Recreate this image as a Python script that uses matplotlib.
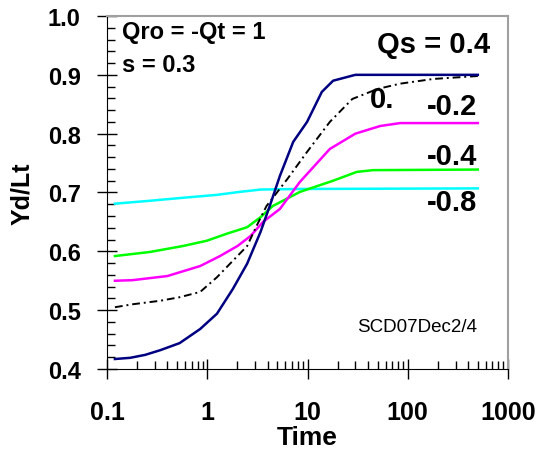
import numpy as np
import matplotlib
matplotlib.use('Agg')
import matplotlib.pyplot as plt
from matplotlib.ticker import FixedLocator, MultipleLocator, LogLocator, NullFormatter

plt.rcParams['font.family'] = ['Liberation Sans', 'DejaVu Sans']

# courbes Yd/Lt en fonction du temps, pour differentes valeurs de Qs
t_04 = [0.12, 0.17, 0.24, 0.34, 0.53, 0.85, 1.25, 1.8, 2.5, 3.4, 4.2, 5.3, 7.2, 9.9, 13.9, 18, 30, 500]
y_04 = [0.417, 0.419, 0.424, 0.432, 0.444, 0.468, 0.494, 0.536, 0.579, 0.633, 0.677, 0.728, 0.786, 0.820, 0.871, 0.890, 0.900, 0.900]

t_00 = [0.12, 0.18, 0.34, 0.53, 0.85, 1.25, 2.0, 2.5, 3.1, 3.9, 6.3, 9.9, 16.7, 28, 50, 84, 180, 500]
y_00 = [0.505, 0.510, 0.516, 0.522, 0.531, 0.556, 0.592, 0.609, 0.643, 0.677, 0.723, 0.769, 0.820, 0.859, 0.876, 0.885, 0.893, 0.898]

t_m02 = [0.12, 0.18, 0.40, 0.85, 1.34, 2.0, 2.7, 3.6, 5.3, 8.4, 16.7, 30, 53, 84, 500]
y_m02 = [0.550, 0.551, 0.558, 0.575, 0.592, 0.609, 0.626, 0.650, 0.672, 0.718, 0.774, 0.800, 0.813, 0.818, 0.818]

t_m04 = [0.12, 0.27, 0.57, 0.99, 1.57, 2.5, 3.4, 4.5, 8.4, 18, 31, 45, 500]
y_m04 = [0.592, 0.599, 0.609, 0.618, 0.630, 0.641, 0.658, 0.677, 0.701, 0.720, 0.735, 0.738, 0.739]

t_m08 = [0.12, 0.27, 0.57, 1.25, 2.1, 3.4, 8.4, 500]
y_m08 = [0.681, 0.686, 0.691, 0.696, 0.701, 0.705, 0.706, 0.707]

fig = plt.figure(figsize=(5.4, 4.56), dpi=100)
ax = fig.add_axes([107/540, 1-370/456, 401/540, 353/456])

ax.plot(t_m08, y_m08, color='#00ffff', lw=1.8)
ax.plot(t_m04, y_m04, color='#00ff00', lw=1.8)
ax.plot(t_m02, y_m02, color='#ff00ff', lw=1.8)
ax.plot(t_00, y_00, color='k', lw=1.4, dashes=(4, 2, 1, 2))
ax.plot(t_04, y_04, color='#000080', lw=1.8)

ax.set_xscale('log')
ax.set_xlim(0.1, 1000)
ax.set_ylim(0.4, 1.0)
ax.xaxis.set_major_locator(FixedLocator([0.1, 1, 10, 100, 1000]))
ax.xaxis.set_minor_locator(LogLocator(base=10, subs=np.arange(2, 10)))
ax.xaxis.set_minor_formatter(NullFormatter())
ax.set_xticklabels(['0.1', '1', '10', '100', '1000'])
ax.yaxis.set_major_locator(MultipleLocator(0.1))
ax.yaxis.set_minor_locator(MultipleLocator(0.02))
ax.set_yticklabels(['%.1f' % v for v in ax.get_yticks()])

ax.tick_params(which='major', direction='inout', length=14, width=1, labelsize=17)
ax.tick_params(which='minor', direction='in', length=6, width=1)
ax.tick_params(axis='x', labelsize=18, pad=15)
ax.tick_params(axis='y', pad=12)
for lab in ax.get_xticklabels() + ax.get_yticklabels():
    lab.set_fontweight('bold')

ax.spines['top'].set_color('#a0a0a0')
ax.spines['right'].set_color('#a0a0a0')
ax.spines['top'].set_linewidth(1.5)
ax.spines['right'].set_linewidth(1.5)

ax.set_xlabel('Time', fontsize=19, fontweight='bold', labelpad=1)
ax.set_ylabel('Yd/Lt', fontsize=18, fontweight='bold', labelpad=10)

ax.text(0.037, 0.955, 'Qro = -Qt = 1', transform=ax.transAxes, fontsize=17,
        fontweight='bold', ha='left', va='center')
ax.text(0.037, 0.864, 's = 0.3', transform=ax.transAxes, fontsize=17,
        fontweight='bold', ha='left', va='center')
ax.text(0.955, 0.921, 'Qs = 0.4', transform=ax.transAxes, fontsize=21,
        fontweight='bold', ha='right', va='center')
ax.text(0.656, 0.765, '0.', transform=ax.transAxes, fontsize=21,
        fontweight='bold', ha='left', va='center')
ax.text(0.923, 0.745, '-0.2', transform=ax.transAxes, fontsize=21,
        fontweight='bold', ha='right', va='center')
ax.text(0.923, 0.603, '-0.4', transform=ax.transAxes, fontsize=21,
        fontweight='bold', ha='right', va='center')
ax.text(0.923, 0.473, '-0.8', transform=ax.transAxes, fontsize=21,
        fontweight='bold', ha='right', va='center')
ax.text(0.923, 0.119, 'SCD07Dec2/4', transform=ax.transAxes, fontsize=13.5,
        ha='right', va='center')

fig.savefig('out.png', dpi=100)
